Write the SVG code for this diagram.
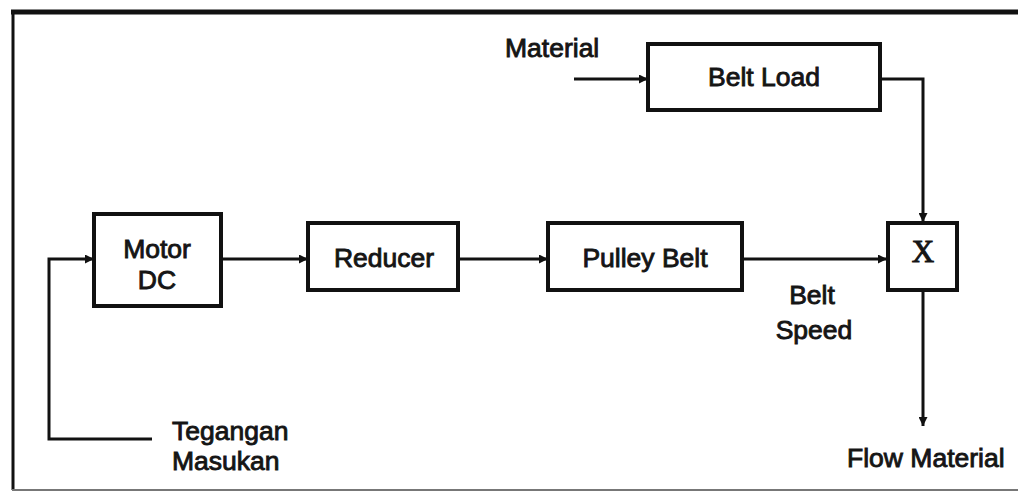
<svg xmlns="http://www.w3.org/2000/svg" width="1018" height="492" viewBox="0 0 1018 492">
  <style>
    .box { fill: #ffffff; stroke: #111111; stroke-width: 4; }
    .wire { fill: none; stroke: #111111; stroke-width: 3; }
    .lbl { font-family: "Liberation Sans", Arial, sans-serif; font-size: 26.5px; fill: #151515; stroke: #151515; stroke-width: 0.9; }
    .mid { text-anchor: middle; }
    .op { font-family: "Liberation Serif", "Times New Roman", serif; font-size: 31px; fill: #151515; stroke: #151515; stroke-width: 1; text-anchor: middle; }
  </style>
  <defs>
    <marker id="arrow" viewBox="0 0 10 10" refX="10" refY="5" markerWidth="10" markerHeight="9" markerUnits="userSpaceOnUse" orient="auto">
      <path d="M0,0 L10,5 L0,10 z" fill="#111111"/>
    </marker>
  </defs>

  <rect width="1018" height="492" fill="#ffffff"/>

  <!-- outer frame -->
  <g id="frame">
    <line x1="11" y1="12" x2="1018" y2="12" stroke="#111111" stroke-width="5"/>
    <line x1="13" y1="10" x2="13" y2="490" stroke="#111111" stroke-width="3"/>
    <line x1="12" y1="490" x2="1018" y2="490" stroke="#777777" stroke-width="2"/>
  </g>

  <!-- connectors -->
  <g id="connectors">
    <polyline class="wire" points="152,439 49,439 49,259 94,259" marker-end="url(#arrow)"/>
    <line class="wire" x1="221" y1="259" x2="308" y2="259" marker-end="url(#arrow)"/>
    <line class="wire" x1="458" y1="259" x2="548" y2="259" marker-end="url(#arrow)"/>
    <line class="wire" x1="742" y1="259" x2="887" y2="259" marker-end="url(#arrow)"/>
    <line class="wire" x1="574" y1="79" x2="648" y2="79" marker-end="url(#arrow)"/>
    <polyline class="wire" points="880,79 923,79 923,222" marker-end="url(#arrow)"/>
    <line class="wire" x1="923" y1="290" x2="923" y2="426" marker-end="url(#arrow)"/>
  </g>

  <g id="motor-dc">
    <rect class="box" x="94" y="214" width="127" height="92"/>
    <text class="lbl mid" x="157" y="258">Motor</text>
    <text class="lbl mid" x="157" y="289">DC</text>
  </g>

  <g id="reducer">
    <rect class="box" x="308" y="223" width="150" height="67"/>
    <text class="lbl mid" x="384" y="267">Reducer</text>
  </g>

  <g id="pulley-belt">
    <rect class="box" x="548" y="223" width="194" height="67"/>
    <text class="lbl mid" x="645" y="267">Pulley Belt</text>
  </g>

  <g id="belt-load">
    <rect class="box" x="648" y="44" width="232" height="66"/>
    <text class="lbl mid" x="764" y="86">Belt Load</text>
  </g>

  <g id="multiplier">
    <rect class="box" x="888" y="223" width="69" height="67"/>
    <text class="op" x="923" y="262">X</text>
  </g>

  <!-- signal labels -->
  <g id="labels">
    <text class="lbl" x="505" y="57">Material</text>
    <text class="lbl mid" x="812" y="304">Belt</text>
    <text class="lbl mid" x="814" y="339">Speed</text>
    <text class="lbl" x="847" y="467">Flow Material</text>
    <text class="lbl" x="172" y="440">Tegangan</text>
    <text class="lbl" x="172" y="470">Masukan</text>
  </g>
</svg>
